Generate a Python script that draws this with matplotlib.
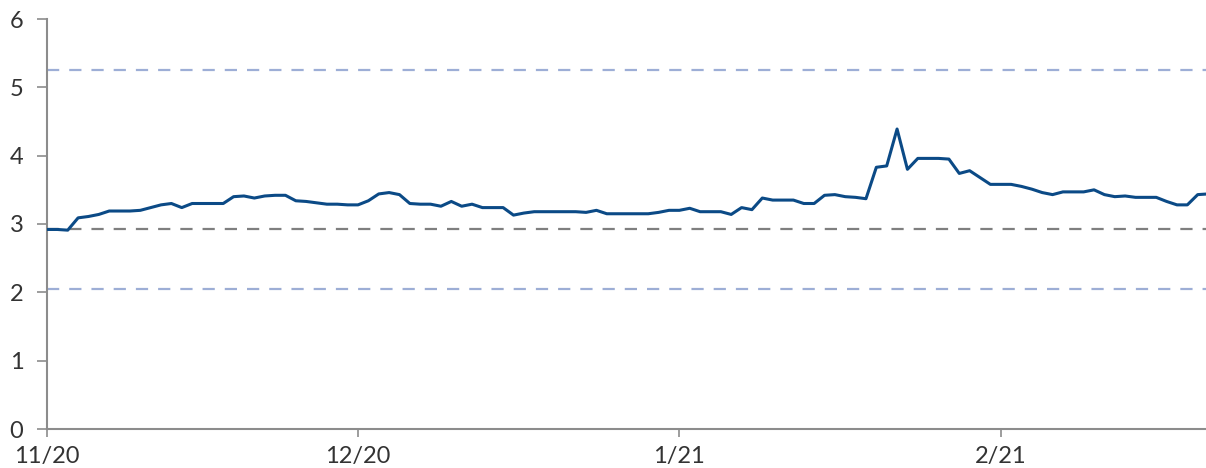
import matplotlib
matplotlib.use("Agg")
import matplotlib.pyplot as plt
import numpy as np
import pandas as pd

start_date = "2020-11-01"
values = [
    2.92, 2.92, 2.91, 3.09, 3.11, 3.14, 3.19, 3.19, 3.19, 3.20,
    3.24, 3.28, 3.30, 3.24, 3.30, 3.30, 3.30, 3.30, 3.40, 3.41,
    3.38, 3.41, 3.42, 3.42, 3.34, 3.33, 3.31, 3.29, 3.29, 3.28,
    3.28, 3.34, 3.44, 3.46, 3.43, 3.30, 3.29, 3.29, 3.26, 3.33,
    3.26, 3.29, 3.24, 3.24, 3.24, 3.13, 3.16, 3.18, 3.18, 3.18,
    3.18, 3.18, 3.17, 3.20, 3.15, 3.15, 3.15, 3.15, 3.15, 3.17,
    3.20, 3.20, 3.23, 3.18, 3.18, 3.18, 3.14, 3.24, 3.21, 3.38,
    3.35, 3.35, 3.35, 3.30, 3.30, 3.42, 3.43, 3.40, 3.39, 3.37,
    3.83, 3.85, 4.39, 3.80, 3.96, 3.96, 3.96, 3.95, 3.74, 3.78,
    3.68, 3.58, 3.58, 3.58, 3.55, 3.51, 3.46, 3.43, 3.47, 3.47,
    3.47, 3.50, 3.43, 3.40, 3.41, 3.39, 3.39, 3.39, 3.33, 3.28,
    3.28, 3.43, 3.44,
]
dates = pd.date_range(start_date, periods=len(values), freq="D")

upper_band = 5.25
mean_level = 2.93
lower_band = 2.05

tick_dates = ["2020-11-01", "2020-12-01", "2021-01-01", "2021-02-01"]
tick_labels = ["11/20", "12/20", "1/21", "2/21"]
y_ticks = [0, 1, 2, 3, 4, 5, 6]

plt.rcParams["font.family"] = ["Lato", "DejaVu Sans"]

fig = plt.figure(figsize=(12.06, 4.68), dpi=100)
ax = fig.add_axes([47 / 1206, 39 / 468, 1159 / 1206, 410 / 468])

ax.axhline(upper_band, color="#9daed6", lw=1.6, dashes=(5.5, 4.5), zorder=1)
ax.axhline(lower_band, color="#9daed6", lw=1.6, dashes=(5.5, 4.5), zorder=1)
ax.axhline(mean_level, color="#7f7f7f", lw=1.6, dashes=(5.5, 4.5), zorder=1)

ax.plot(dates, values, color="#0b4a86", lw=2.2, solid_joinstyle="round",
        solid_capstyle="round", zorder=3)

ax.set_ylim(0, 6)
ax.set_xlim(pd.Timestamp(start_date), pd.Timestamp(start_date) + pd.Timedelta(days=111.8))
ax.set_yticks(y_ticks)
ax.set_xticks(pd.to_datetime(tick_dates))
ax.set_xticklabels(tick_labels)

for side in ["top", "right"]:
    ax.spines[side].set_visible(False)
for side in ["left", "bottom"]:
    ax.spines[side].set_color("#8c8c8c")
    ax.spines[side].set_linewidth(1.5)

ax.tick_params(axis="y", length=7, width=1.2, color="#8c8c8c", labelsize=17,
               labelcolor="#333333", pad=10)
ax.tick_params(axis="x", length=6, width=1.2, color="#8c8c8c", labelsize=17,
               labelcolor="#333333", pad=6)

fig.savefig("out.png", dpi=100)
